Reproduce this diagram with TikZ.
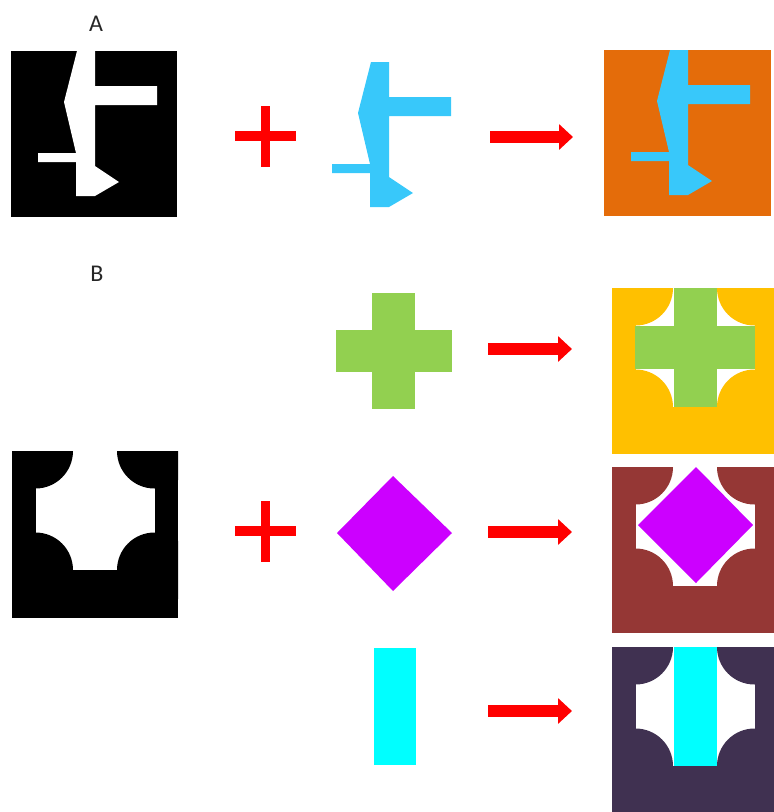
\documentclass[tikz,border=0pt]{standalone}
\usepackage{fontspec}
\setmainfont{Carlito}
\usetikzlibrary{arrows.meta}
\definecolor{cyanA}{RGB}{56,200,250}
\definecolor{orangeA}{RGB}{228,108,10}
\definecolor{yellowB}{RGB}{255,192,0}
\definecolor{brownB}{RGB}{149,55,53}
\definecolor{plumB}{RGB}{64,49,81}
\definecolor{greenB}{RGB}{146,208,80}
\definecolor{violetB}{RGB}{204,0,255}
\definecolor{aquaB}{RGB}{0,255,255}
\tikzset{
  lbl/.style={font=\fontsize{24}{28}\selectfont, inner sep=0pt, text=black!85},
  redarrow/.style={draw=red, line width=12pt, -{Triangle[length=14pt,width=25pt]}},
  plusbar/.style={fill=red},
}
\newcommand\Afill[2]{\fill[#1,shift={#2}] (77,51) -- (95,51) -- (95,86) -- (157,86) -- (157,105) -- (95,105) -- (95,166) -- (119,182) -- (95,196) -- (76,196) -- (76,162) -- (38,162) -- (38,153) -- (76,153) -- (64,102) -- cycle;}
\newcommand\Bframe[3]{%
  \begin{scope}[shift={#2}]
    \clip (0,0) rectangle (166,#3);
    \fill[#1] (0,0) rectangle (166,#3);
    \fill[white] (23.5,0) rectangle (142.5,119);
    \fill[#1] (23.5,0) circle[radius=37.5pt] (142.5,0) circle[radius=37.5pt]
      (23.5,119) circle[radius=37.5pt] (142.5,119) circle[radius=37.5pt];
  \end{scope}}
\newcommand\plussign[1]{%
  \begin{scope}[shift={#1}]
    \fill[red] (-4.5,-30.5) rectangle (4.5,30.5);
    \fill[red] (-30.5,-5) rectangle (30.5,5);
  \end{scope}}
\begin{document}
\begin{tikzpicture}[x=1pt,y=-1pt]
\useasboundingbox (0,0) rectangle (774,812);
\clip (0,0) rectangle (774,812);
% labels
\node[lbl] (labA) at (96,24) {A};
\node[lbl] (labB) at (97,274) {B};
% ---------- Panel A
\fill[black] (11,51) rectangle (177,217);
\Afill{white}{(0,0)}
\plussign{(265.5,136)}
\Afill{cyanA}{(294,11)}
\coordinate (a1s) at (490,137);
\coordinate (a1e) at (573,137);
\draw[redarrow] (a1s) -- (a1e);
\fill[orangeA] (604,50) rectangle (771,216);
\Afill{cyanA}{(593,-1)}
% ---------- Panel B
\Bframe{black}{(12,451)}{167}
\plussign{(265.5,531)}
% middle shapes
\fill[greenB] (372,293) rectangle (415,409);
\fill[greenB] (336,330) rectangle (452,372);
\fill[violetB] (393,476) -- (452,533) -- (393,591) -- (337,533) -- cycle;
\fill[aquaB] (374,648) rectangle (416,765);
% arrows
\coordinate (b1s) at (488,349);
\coordinate (b1e) at (572,349);
\coordinate (b2s) at (488,532);
\coordinate (b2e) at (572,532);
\coordinate (b3s) at (488,711);
\coordinate (b3e) at (572,711);
\draw[redarrow] (b1s) -- (b1e);
\draw[redarrow] (b2s) -- (b2e);
\draw[redarrow] (b3s) -- (b3e);
% composites
\Bframe{yellowB}{(612,288)}{166}
\fill[greenB] (674,288) rectangle (717,407);
\fill[greenB] (635,326) rectangle (755,369);
\Bframe{brownB}{(612,467)}{166}
\fill[violetB] (696,467) -- (753,525) -- (696,583) -- (638,525) -- cycle;
\Bframe{plumB}{(612,647)}{166}
\fill[aquaB] (674,647) rectangle (717,766);
\end{tikzpicture}
\end{document}
